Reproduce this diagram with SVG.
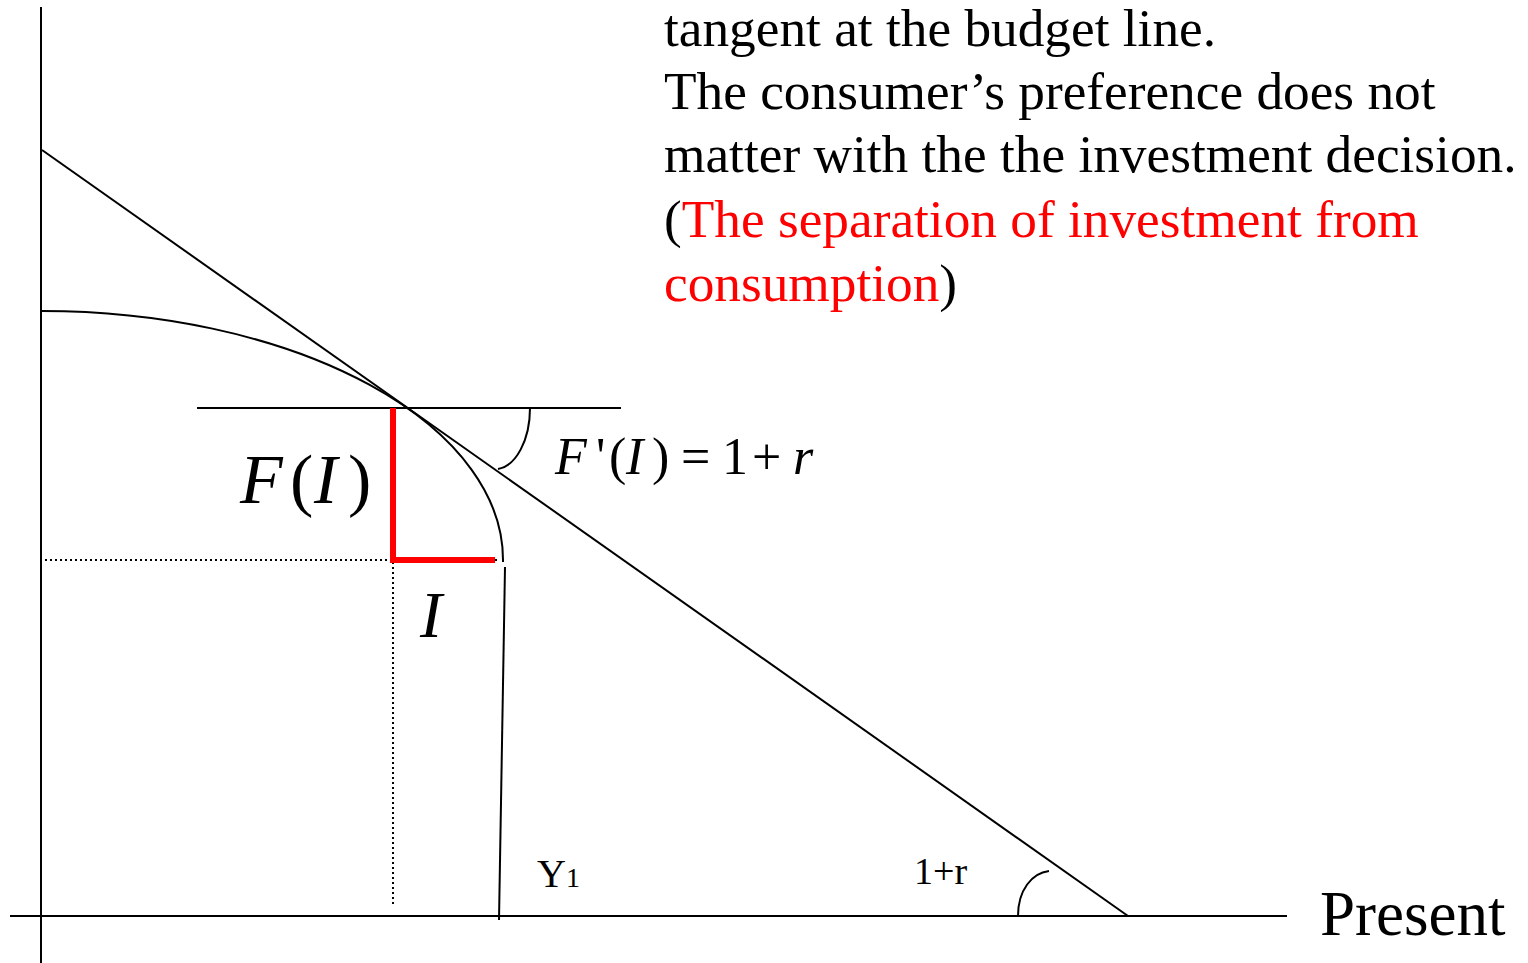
<svg xmlns="http://www.w3.org/2000/svg" width="1528" height="963" viewBox="0 0 1528 963">
<style>
.ln{fill:none;stroke:#000;stroke-width:2}
.dot{fill:none;stroke:#000;stroke-width:2;stroke-dasharray:2 3}
.red{fill:none;stroke:#ff0000;stroke-width:6}
.t{font-family:"Liberation Serif","Times New Roman",serif;fill:#000}
.it{font-style:italic}
.r{fill:#ff0000}
</style>
<rect width="1528" height="963" fill="#fff"/>
<g id="axes">
<line class="ln" x1="41" y1="7" x2="41" y2="963"/>
<line class="ln" x1="10" y1="916" x2="1287" y2="916"/>
</g>
<g id="connectors">
<line class="ln" x1="42" y1="150" x2="1128" y2="916"/>
<path class="ln" d="M42,311 A461,249 0 0 1 503,562"/>
<line class="ln" x1="505" y1="567" x2="499" y2="920"/>
<line class="ln" x1="197" y1="408" x2="621" y2="408"/>
<path class="ln" d="M530,408 C530,440 516,466 498,469"/>
<path class="ln" d="M1018,916 C1018,890 1032,873 1049,871"/>
<line class="dot" x1="45" y1="560" x2="500" y2="560"/>
<line class="dot" x1="393" y1="562" x2="393" y2="905"/>
<polyline class="red" points="393,408 393,560 495,560"/>
</g>
<g id="label-FI">
<text class="t it" x="240" y="503" font-size="70">F</text>
<text class="t" x="290" y="503" font-size="70">(</text>
<text class="t it" x="314" y="503" font-size="70">I</text>
<text class="t" x="348" y="503" font-size="70">)</text>
</g>
<g id="label-I">
<text class="t it" x="420" y="637" font-size="66">I</text>
</g>
<g id="label-deriv">
<text class="t it" x="555" y="474" font-size="52">F</text>
<text class="t" x="596" y="474" font-size="52">'</text>
<text class="t" x="609" y="474" font-size="52">(</text>
<text class="t it" x="626" y="474" font-size="52">I</text>
<text class="t" x="652" y="474" font-size="52">)</text>
<text class="t" x="681" y="474" font-size="52">=</text>
<text class="t" x="722" y="474" font-size="52">1</text>
<text class="t" x="752" y="474" font-size="52">+</text>
<text class="t it" x="793" y="474" font-size="52">r</text>
</g>
<g id="label-Y1">
<text class="t" x="537" y="887" font-size="40">Y<tspan font-size="28">1</tspan></text>
</g>
<g id="label-1r">
<text class="t" x="914" y="884" font-size="38">1+r</text>
</g>
<g id="label-present">
<text class="t" x="1320" y="935" font-size="63">Present</text>
</g>
<g id="note">
<text class="t" x="664" y="46" font-size="53.3">tangent at the budget line.</text>
<text class="t" x="664" y="109" font-size="53.3">The consumer’s preference does not</text>
<text class="t" x="664" y="172" font-size="53.3">matter with the the investment decision.</text>
<text class="t" x="664" y="237" font-size="53.3">(<tspan class="r">The separation of investment from</tspan></text>
<text class="t" x="664" y="301" font-size="53.3"><tspan class="r">consumption</tspan>)</text>
</g>
</svg>
